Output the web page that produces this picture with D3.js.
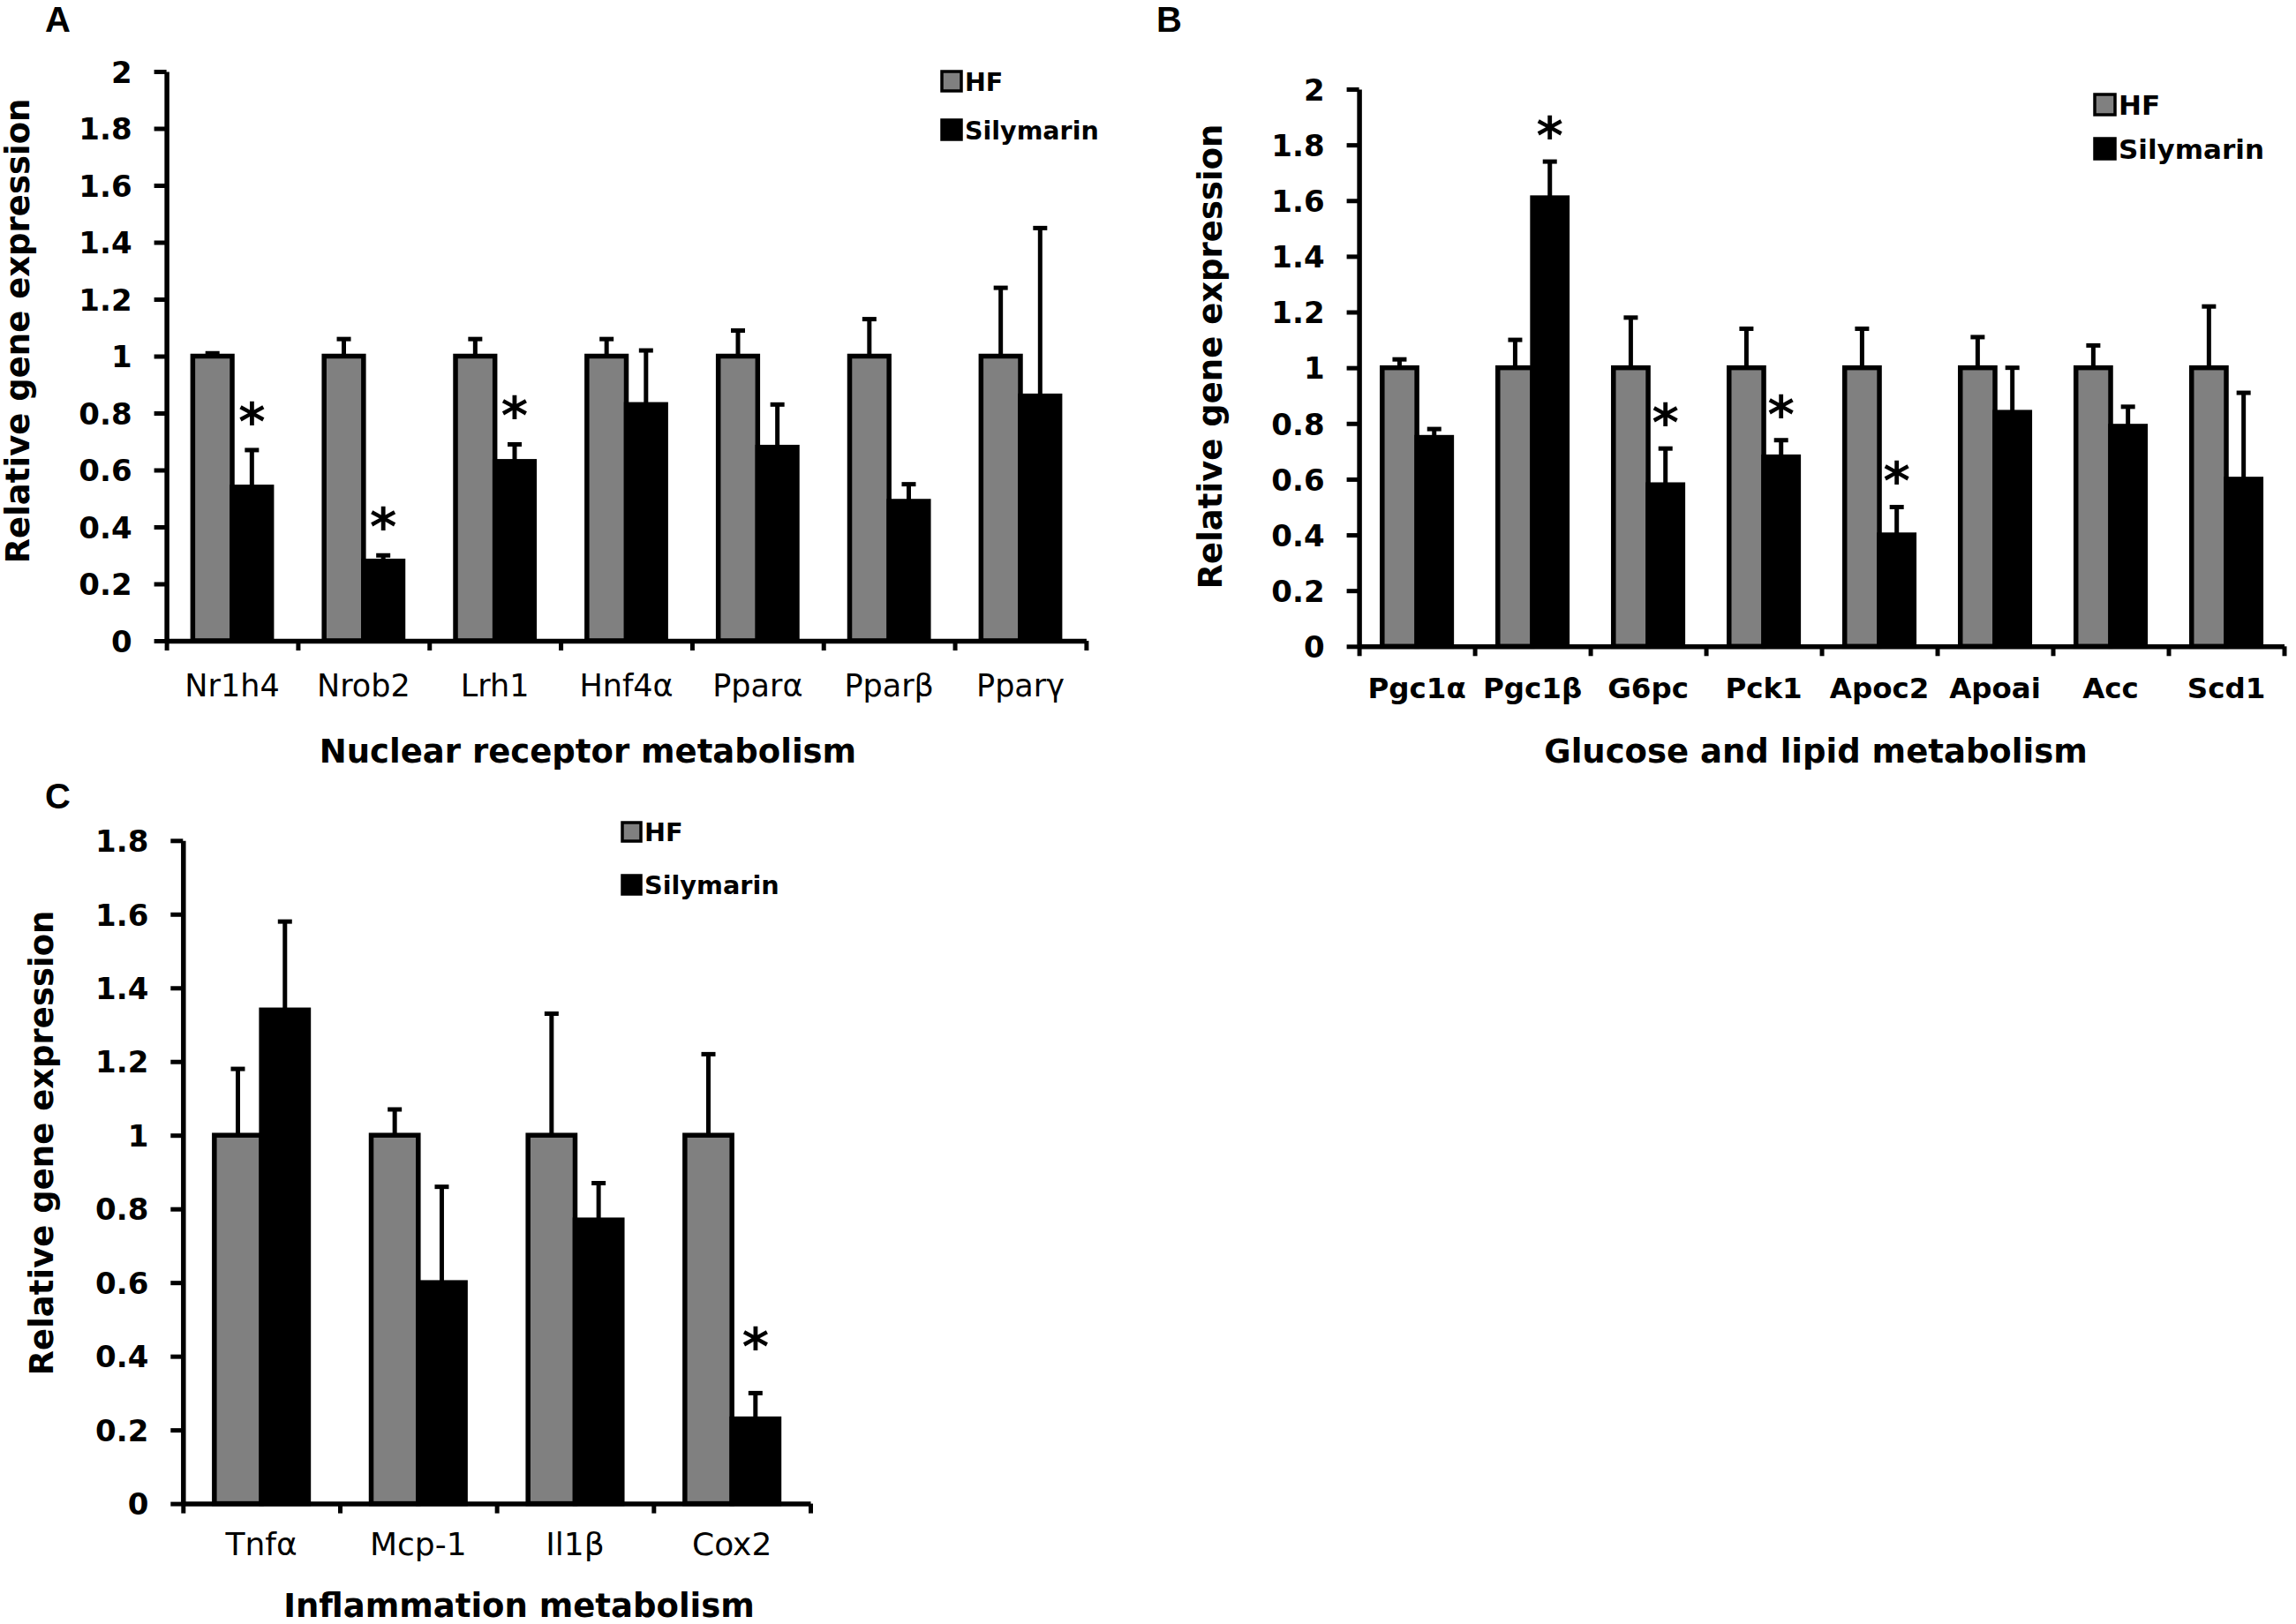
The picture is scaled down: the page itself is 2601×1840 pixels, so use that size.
<!DOCTYPE html>
<html>
<head>
<meta charset="utf-8">
<script src="https://cdn.jsdelivr.net/npm/d3@7"></script>
<style>
  html, body { margin: 0; padding: 0; background: #fff; }
  svg { display: block; }
  text { font-family: "DejaVu Sans", Verdana, sans-serif; fill: #000; }
</style>
</head>
<body>
<svg id="fig" width="2601" height="1840"></svg>
<script>
// ---- data ----
const seriesNames = ['HF', 'Silymarin']

const nuclearGenes = ['Nr1h4', 'Nrob2', 'Lrh1', 'Hnf4α', 'Pparα', 'Pparβ', 'Pparγ']
const nuclearHF = [1, 1, 1, 1, 1, 1, 1]
const nuclearHFErr = [0.01, 0.06, 0.06, 0.06, 0.09, 0.13, 0.24]
const nuclearSil = [0.54, 0.28, 0.63, 0.83, 0.68, 0.49, 0.86]
const nuclearSilErr = [0.13, 0.02, 0.06, 0.19, 0.15, 0.06, 0.59]
const nuclearSig = [true, true, true, false, false, false, false]

const glucoseGenes = ['Pgc1α', 'Pgc1β', 'G6pc', 'Pck1', 'Apoc2', 'Apoai', 'Acc', 'Scd1']
const glucoseHF = [1, 1, 1, 1, 1, 1, 1, 1]
const glucoseHFErr = [0.03, 0.10, 0.18, 0.14, 0.14, 0.11, 0.08, 0.22]
const glucoseSil = [0.75, 1.61, 0.58, 0.68, 0.40, 0.84, 0.79, 0.60]
const glucoseSilErr = [0.03, 0.13, 0.13, 0.06, 0.10, 0.16, 0.07, 0.31]
const glucoseSig = [false, true, true, true, true, false, false, false]

const inflamGenes = ['Tnfα', 'Mcp-1', 'Il1β', 'Cox2']
const inflamHF = [1, 1, 1, 1]
const inflamHFErr = [0.18, 0.07, 0.33, 0.22]
const inflamSil = [1.34, 0.60, 0.77, 0.23]
const inflamSilErr = [0.24, 0.26, 0.10, 0.07]
const inflamSig = [false, false, false, true]

const ticksTo2 = [0, 0.2, 0.4, 0.6, 0.8, 1, 1.2, 1.4, 1.6, 1.8, 2]
const ticksTo18 = [0, 0.2, 0.4, 0.6, 0.8, 1, 1.2, 1.4, 1.6, 1.8]

const yTitle = 'Relative gene expression'

// ---- drawing ----
const fig = d3.select('#fig')
const grey = '#808080'

function drawPanel(p) {
  let g = fig.append('g').attr('class', 'panel')

  let x = d3.scaleBand().domain(p.categories).range([p.x0, p.x1])
  let y = d3.scaleLinear().domain([0, p.yMax]).range([p.y0, p.yTop])
  let bw = x.bandwidth() * 0.3
  let rows = p.categories.map((c, i) => ({
    c: c,
    hf: p.hf[i], hfErr: p.hfErr[i],
    sil: p.sil[i], silErr: p.silErr[i],
    sig: p.sig[i]
  }))
  let mid = d => x(d.c) + x.bandwidth() / 2

  // bars
  g.append('g').selectAll('rect')
    .data(rows)
    .join('rect')
    .attr('x', d => mid(d) - bw)
    .attr('y', d => y(d.hf))
    .attr('width', bw)
    .attr('height', d => y(0) - y(d.hf))
    .attr('fill', grey)
    .attr('stroke', '#000')
    .attr('stroke-width', 5.5)
  g.append('g').selectAll('rect')
    .data(rows)
    .join('rect')
    .attr('x', d => mid(d))
    .attr('y', d => y(d.sil))
    .attr('width', bw)
    .attr('height', d => y(0) - y(d.sil))
    .attr('fill', '#000')
    .attr('stroke', '#000')
    .attr('stroke-width', 5.5)

  // error bars (upper only)
  let errs = []
  rows.forEach(d => {
    errs.push({ cx: mid(d) - bw / 2, v: d.hf, e: d.hfErr })
    errs.push({ cx: mid(d) + bw / 2, v: d.sil, e: d.silErr })
  })
  let eg = g.append('g').attr('stroke', '#000').attr('stroke-width', 5)
  eg.selectAll('line.stem')
    .data(errs)
    .join('line')
    .attr('class', 'stem')
    .attr('x1', d => d.cx).attr('x2', d => d.cx)
    .attr('y1', d => y(d.v)).attr('y2', d => y(d.v + d.e))
  eg.selectAll('line.cap')
    .data(errs)
    .join('line')
    .attr('class', 'cap')
    .attr('x1', d => d.cx - 8).attr('x2', d => d.cx + 8)
    .attr('y1', d => y(d.v + d.e)).attr('y2', d => y(d.v + d.e))

  // significance stars
  g.append('g').selectAll('text')
    .data(rows.filter(d => d.sig))
    .join('text')
    .attr('x', d => mid(d) + bw / 2)
    .attr('y', d => y(d.sil + d.silErr) - p.starGap + 34)
    .attr('text-anchor', 'middle')
    .style('font-size', '58px')
    .style('font-weight', 'bold')
    .text('*')

  // y axis
  let ya = g.append('g')
    .attr('transform', 'translate(' + p.x0 + ',0)')
    .call(d3.axisLeft(y)
      .tickValues(p.yTicks)
      .tickSize(14)
      .tickSizeOuter(0)
      .tickPadding(25)
      .tickFormat(d => String(+d.toFixed(1))))
  ya.select('.domain').attr('stroke-width', 5.5)
  ya.selectAll('.tick line').attr('stroke-width', 5)
  ya.selectAll('.tick text')
    .attr('dy', '0.36em')
    .style('font-size', '34px')
    .style('font-weight', 'bold')
    .style('font-family', '"DejaVu Sans", Verdana, sans-serif')

  // x axis: boundary ticks
  let edges = d3.scaleLinear().domain([0, p.categories.length]).range([p.x0, p.x1])
  let xa = g.append('g')
    .attr('transform', 'translate(0,' + p.y0 + ')')
    .call(d3.axisBottom(edges)
      .tickValues(d3.range(p.categories.length + 1))
      .tickSize(11)
      .tickSizeOuter(0)
      .tickFormat(''))
  xa.select('.domain').attr('stroke-width', 5.5)
  xa.selectAll('.tick line').attr('stroke-width', 5)

  // x axis: category labels
  let xl = g.append('g')
    .attr('transform', 'translate(0,' + p.y0 + ')')
    .call(d3.axisBottom(x).tickSize(0))
  xl.select('.domain').remove()
  xl.selectAll('.tick text')
    .attr('y', p.labelBaseline - p.y0)
    .attr('dy', 0)
    .style('font-size', p.labelSize + 'px')
    .style('font-weight', p.labelWeight)
    .style('font-family', '"DejaVu Sans", Verdana, sans-serif')

  // titles
  g.append('text')
    .attr('x', p.titleX)
    .attr('y', p.titleY)
    .attr('text-anchor', 'middle')
    .style('font-size', '37px')
    .style('font-weight', 'bold')
    .text(p.title)
  g.append('text')
    .attr('transform', 'translate(' + p.yTitleX + ',' + p.yTitleY + ') rotate(-90)')
    .attr('text-anchor', 'middle')
    .style('font-size', '37px')
    .style('font-weight', 'bold')
    .text(yTitle)
  g.append('text')
    .attr('x', p.letterX)
    .attr('y', p.letterY)
    .style('font-family', '"Liberation Sans", Arial, sans-serif')
    .style('font-size', '40px')
    .style('font-weight', 'bold')
    .text(p.letter)

  // legend
  let lg = g.append('g').attr('transform', 'translate(' + p.legX + ',' + p.legY + ')')
  let entries = lg.selectAll('g.legend-entry')
    .data(seriesNames)
    .join('g')
    .attr('class', 'legend-entry')
    .attr('transform', (d, i) => 'translate(0,' + i * p.legGap + ')')
  entries.append('rect')
    .attr('width', p.legSize)
    .attr('height', p.legSize)
    .attr('fill', (d, i) => i === 0 ? grey : '#000')
    .attr('stroke', '#000')
    .attr('stroke-width', 3.5)
  entries.append('text')
    .attr('x', p.legSize + 4)
    .attr('y', p.legSize)
    .style('font-size', p.legFont + 'px')
    .style('font-weight', 'bold')
    .text(d => d)
}

drawPanel({
  categories: nuclearGenes, hf: nuclearHF, hfErr: nuclearHFErr,
  sil: nuclearSil, silErr: nuclearSilErr, sig: nuclearSig,
  x0: 188.6, x1: 1230.4, y0: 726, yTop: 81, yMax: 2, yTicks: ticksTo2,
  labelSize: 35, labelWeight: 'normal', labelBaseline: 789,
  title: 'Nuclear receptor metabolism', titleX: 666, titleY: 864,
  yTitleX: 33, yTitleY: 375,
  letter: 'A', letterX: 51, letterY: 36,
  legX: 1067, legY: 81, legSize: 22, legGap: 55, legFont: 28.5,
  starGap: 46
})

drawPanel({
  categories: glucoseGenes, hf: glucoseHF, hfErr: glucoseHFErr,
  sil: glucoseSil, silErr: glucoseSilErr, sig: glucoseSig,
  x0: 1539.6, x1: 2587.5, y0: 732.3, yTop: 101, yMax: 2, yTicks: ticksTo2,
  labelSize: 32.5, labelWeight: 'bold', labelBaseline: 791,
  title: 'Glucose and lipid metabolism', titleX: 2057, titleY: 864,
  yTitleX: 1384, yTitleY: 404,
  letter: 'B', letterX: 1310, letterY: 36,
  legX: 2373, legY: 107, legSize: 23, legGap: 50, legFont: 31,
  starGap: 43
})

drawPanel({
  categories: inflamGenes, hf: inflamHF, hfErr: inflamHFErr,
  sil: inflamSil, silErr: inflamSilErr, sig: inflamSig,
  x0: 207.3, x1: 918, y0: 1703.6, yTop: 952.3, yMax: 1.8, yTicks: ticksTo18,
  labelSize: 36, labelWeight: 'normal', labelBaseline: 1762,
  title: 'Inflammation metabolism', titleX: 588, titleY: 1832,
  yTitleX: 60, yTitleY: 1295,
  letter: 'C', letterX: 51, letterY: 916,
  legX: 705, legY: 932, legSize: 21, legGap: 60, legFont: 28.7,
  starGap: 66
})
</script>
</body>
</html>
